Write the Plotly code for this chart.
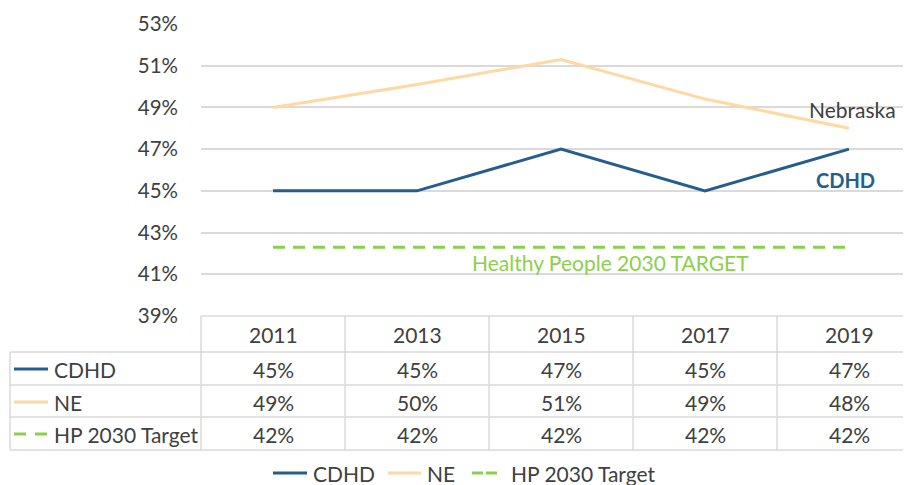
import plotly.graph_objects as go

years = ["2011", "2013", "2015", "2017", "2019"]
cdhd = [45.0, 45.0, 47.0, 45.0, 47.0]
ne = [49.0, 50.1, 51.3, 49.4, 48.0]
hp_target = [42.3, 42.3, 42.3, 42.3, 42.3]
series_names = ["CDHD", "NE", "HP 2030 Target"]
y_ticks = [39, 41, 43, 45, 47, 49, 51, 53]

C_CDHD = "#245E8F"
C_NE = "#FFD8A3"
C_HP = "#8CD04A"
TXT = "#404040"
GRID = "#DADADA"
FONT = "Lato"
FS = 21

# page has an 8px body margin: figure is drawn 8px down/right
OFF = 8
W, H = 911, 485
L, R_PX, T, B_PX = 201, 911, 24, 316   # plot area in screenshot pixels
PW, PH = R_PX - L, B_PX - T
CELL = 144.0

def px(xp):
    return (xp - L) / PW

def py(yp):
    return (B_PX - yp) / PH

xs = list(range(len(years)))

fig = go.Figure()
fig.add_trace(go.Scatter(x=xs, y=cdhd, name=series_names[0], mode="lines",
                         line=dict(color=C_CDHD, width=3)))
fig.add_trace(go.Scatter(x=xs, y=ne, name=series_names[1], mode="lines",
                         line=dict(color=C_NE, width=3)))
fig.add_trace(go.Scatter(x=xs, y=hp_target, name=series_names[2], mode="lines",
                         line=dict(color=C_HP, width=3, dash="12px,8px")))

shapes = []
annotations = []

def hline(x0, x1, y, color, width=1.5):
    shapes.append(dict(type="line", xref="paper", yref="paper", x0=px(x0), x1=px(x1),
                       y0=py(y), y1=py(y), line=dict(color=color, width=width)))

def vline(x, y0, y1, color, width=1.5):
    shapes.append(dict(type="line", xref="paper", yref="paper", x0=px(x), x1=px(x),
                       y0=py(y0), y1=py(y1), line=dict(color=color, width=width)))

def text(xp, yp, s, anchor="left", color=TXT, size=FS):
    annotations.append(dict(x=px(xp), xref="paper", y=py(yp), yref="paper", text=s,
                            xanchor=anchor, yanchor="middle", showarrow=False,
                            font=dict(family=FONT, size=size, color=color)))

row_lines = [352, 385, 417, 450]
row_centers = [369, 402, 434]
header_center = 334
table_left = 10

hline(L, R_PX + 20, B_PX, GRID)
for yl in row_lines:
    hline(table_left, R_PX + 20, yl, GRID)
vline(table_left, row_lines[0], row_lines[-1], GRID)
for i in range(len(years)):
    vline(L + i * CELL, B_PX, row_lines[-1], GRID)

def col_center(i):
    return L + (i + 0.5) * CELL

for i, yr in enumerate(years):
    text(col_center(i), header_center, yr, anchor="center")

data_rows = [cdhd, ne, hp_target]
colors = [C_CDHD, C_NE, C_HP]
for r, (name, vals, col) in enumerate(zip(series_names, data_rows, colors)):
    yc = row_centers[r]
    if r < 2:
        hline(14, 48, yc, col, 3)
    else:
        hline(14, 26, yc, col, 3)
        hline(35, 47, yc, col, 3)
    text(52, yc, name)
    for i, v in enumerate(vals):
        text(col_center(i), yc, f"{round(v)}%", anchor="center")

# bottom legend (drawn manually)
leg_y = 473
hline(273, 307, leg_y, C_CDHD, 3)
text(311, leg_y, series_names[0])
hline(388, 421, leg_y, C_NE, 3)
text(425, leg_y, series_names[1])
hline(472, 483, leg_y, C_HP, 3)
hline(486, 497, leg_y, C_HP, 3)
text(509, leg_y, series_names[2])

# in-plot labels
annotations.append(dict(x=4, xref="x", y=ne[-1], yref="y", text="Nebraska", showarrow=False,
                        xanchor="left", xshift=-42, yshift=19,
                        font=dict(family=FONT, size=FS, color=TXT)))
annotations.append(dict(x=4, xref="x", y=cdhd[-1], yref="y", text="<b>CDHD</b>", showarrow=False,
                        xanchor="left", xshift=-35, yshift=-31,
                        font=dict(family=FONT, size=20, color=C_CDHD)))
annotations.append(dict(x=2.5, xref="x", y=hp_target[0], yref="y", text="Healthy People 2030 TARGET",
                        showarrow=False, xanchor="center", yshift=-15,
                        xshift=-23, font=dict(family=FONT, size=FS, color=C_HP)))

fig.update_layout(
    width=W - OFF, height=H - OFF,
    margin=dict(l=L - OFF, r=W - R_PX, t=T - OFF, b=H - B_PX, pad=0, autoexpand=False),
    paper_bgcolor="white", plot_bgcolor="white",
    font=dict(family=FONT, size=FS, color=TXT),
    xaxis=dict(range=[-0.5, -0.5 + PW / CELL], showgrid=False, zeroline=False,
               showticklabels=False, showline=False, fixedrange=True, automargin=False),
    yaxis=dict(range=[39, 53], tickvals=y_ticks, ticktext=[f"{v}%" for v in y_ticks],
               showgrid=True, gridcolor=GRID, gridwidth=1.5, zeroline=False, showline=False,
               automargin=False,
               ticklabelstandoff=22, tickfont=dict(family=FONT, size=20.5, color=TXT)),
    showlegend=False,
    shapes=shapes,
    annotations=annotations,
)

fig.write_html("out.html")
